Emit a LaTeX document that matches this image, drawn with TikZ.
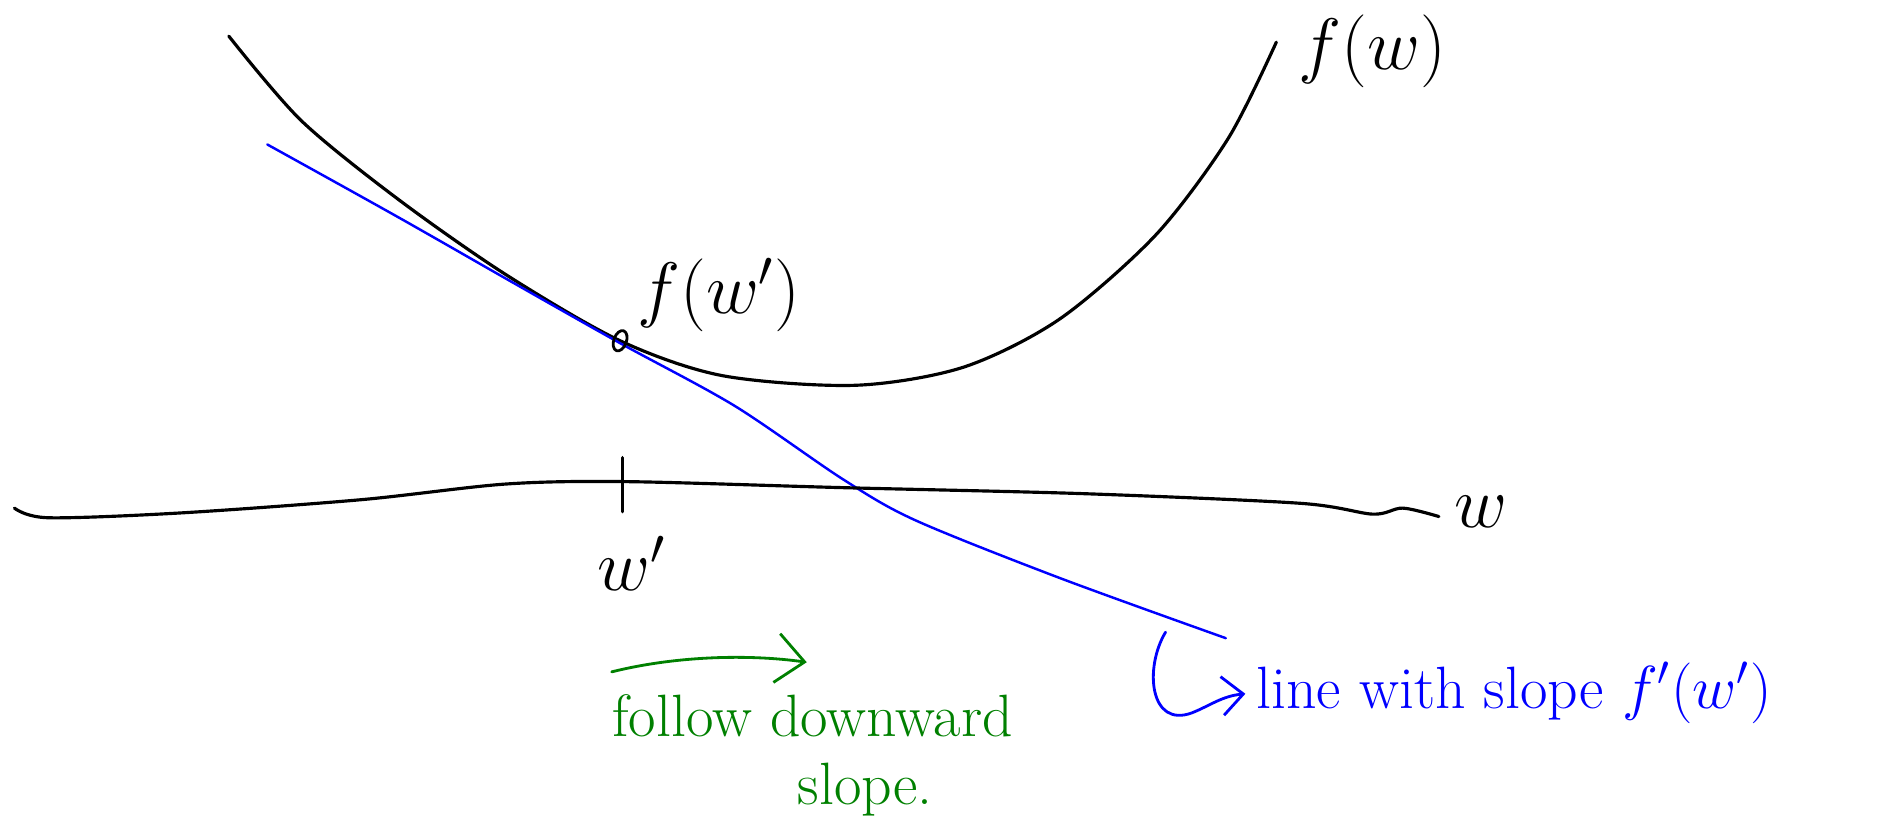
\documentclass[tikz,border=0pt]{standalone}
\usepackage{tikz}
\usetikzlibrary{arrows.meta}

\begin{document}
\begin{tikzpicture}[
  x=0.01204cm, y=-0.01204cm,
  % pen strokes
  curve/.style={black, line width=0.9pt, line join=round, line cap=round},
  tangent/.style={blue, line width=0.7pt, line join=round, line cap=round},
  % labels
  pen/.style={font=\fontsize{21}{24}\selectfont, inner sep=0pt},
  notegreen/.style={green!50!black, font=\fontsize{17}{20}\selectfont, inner sep=0pt},
  noteblue/.style={blue, font=\fontsize{17}{20}\selectfont, inner sep=0pt},
  % arrows
  greenarrow/.style={green!50!black, line width=0.8pt, line cap=round,
                     -{Straight Barb[length=8pt,width=14pt]}},
  bluearrow/.style={blue, line width=0.8pt, line cap=round,
                    -{Straight Barb[length=6pt,width=11pt]}, shorten >=3pt},
]
\useasboundingbox (0,0) rectangle (1568,690);

% ── Function f(w) ────────────────────────────────────────────────────────
\draw[curve] plot[smooth] coordinates {
  (190,30) (250,100) (330,165) (420,228) (515,283) (600,312) (710,320)
  (800,305) (880,265) (960,195) (1020,115) (1060,35)};
\node[pen] (fw) at (1140,43) {$f(w)$};

% ── Tangent at w' ────────────────────────────────────────────────────────
\draw[tangent] plot[smooth] coordinates {
  (222,120) (330,180) (430,237) (515,285) (610,337) (700,398) (760,432)
  (880,480) (1018,530)};
\draw[curve, line width=0.8pt, rotate around={-20:(515,283)}]
  (515,283) ellipse [x radius=1.8pt, y radius=3pt];
\node[pen] (fwp) at (597,245) {$f(w')$};

% ── Horizontal axis ──────────────────────────────────────────────────────
\draw[curve] plot[smooth] coordinates {
  (12,422) (40,430) (150,426) (300,415) (420,402) (520,400) (700,405)
  (900,410) (1080,418) (1140,427) (1165,422) (1195,429)};
\draw[curve] (517,380) -- (517,425);
\node[pen] (wp)   at (525,468) {$w'$};
\node[pen] (wlab) at (1230,425) {$w$};

% ── Notes ────────────────────────────────────────────────────────────────
\node[notegreen, anchor=base west] (follow) at (508,612) {follow downward};
\node[notegreen, anchor=base west] (slope)  at (662,668) {slope.};
\coordinate (gs) at (508,558);
\coordinate (ge) at (670,550);
\draw[greenarrow] (gs) .. controls (560,545) and (620,543) .. (ge);

\node[noteblue, anchor=base west] (linelab) at (1043,588) {line with slope $f'(w')$};
\coordinate (hs) at (968,525);
\draw[bluearrow] (hs) .. controls (950,555) and (955,605) .. (990,592)
  .. controls (1005,586) and (1015,578) .. (linelab.west);

\end{tikzpicture}
\end{document}
